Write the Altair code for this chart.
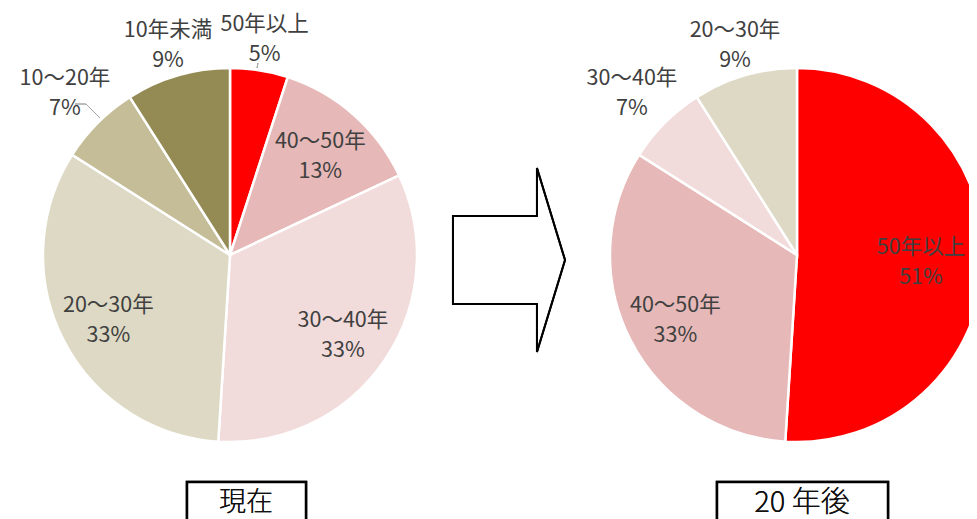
import altair as alt
import pandas as pd

# ---- data ----
now_names = ["50年以上", "40～50年", "30～40年", "20～30年", "10～20年", "10年未満"]
now_values = [5, 13, 33, 33, 7, 9]
future_names = ["50年以上", "40～50年", "30～40年", "20～30年"]
future_values = [51, 33, 7, 9]
panel_titles = ["現在", "20 年後"]

# ---- style ----
cat_domain = ["50年以上", "40～50年", "30～40年", "20～30年", "10～20年", "10年未満"]
cat_colors = ["#FF0000", "#E6B8B7", "#F2DCDB", "#DDD9C4", "#C4BD97", "#948A54"]
FONT = "Noto Sans CJK JP"
TXT = "#404040"
W, H = 961, 511
R = 187
CY = 247
LEFT_CX, RIGHT_CX = 222, 789
TAU = 6.283185307179586
LINE_H = 30


def frame(names, values):
    return pd.DataFrame({
        "name": names,
        "value": values,
        "idx": list(range(len(names))),
    })


def pie(names, values, cx):
    df = frame(names, values)
    arc = alt.Chart(df).mark_arc(radius=R, stroke="white", strokeWidth=2.5).encode(
        theta=alt.Theta("value:Q", stack=True, scale=alt.Scale(domain=[0, 100], range=[0, TAU])),
        order=alt.Order("idx:Q"),
        x=alt.value(cx), y=alt.value(CY),
        color=alt.Color("name:N", scale=alt.Scale(domain=cat_domain, range=cat_colors), legend=None),
    )
    # label at the slice's mid angle; small slices outside the pie
    # (distance = radius + gap + half label box along the ray), kept inside the canvas
    text = alt.Chart(df).transform_window(
        cum="sum(value)", sort=[alt.SortField("idx")], frame=[None, 0]
    ).transform_calculate(
        ang="(datum.cum - datum.value / 2) / 100 * 2 * PI",
        label="datum.name + '\\n' + datum.value + '%'",
    ).transform_calculate(
        lr=(f"datum.value < 10 ? {R} + 4 + min(46 / (abs(sin(datum.ang)) + 1e-6), "
            f"30 / (abs(cos(datum.ang)) + 1e-6)) : {R * 0.73}"),
    ).transform_calculate(
        px=f"min({cx} + datum.lr * sin(datum.ang), {W - 48})",
        py=f"{CY} - datum.lr * cos(datum.ang)",
    ).mark_text(
        font=FONT, fontSize=21.5, color=TXT, lineBreak="\n", lineHeight=LINE_H,
        align="center", baseline="middle", dy=-11,
    ).encode(
        x=alt.X("px:Q", scale=None, axis=None),
        y=alt.Y("py:Q", scale=None, axis=None),
        text="label:N",
    )
    return [arc, text]


deco = alt.Chart(pd.DataFrame({"t": panel_titles}))

# leader lines of the small outside labels (left pie)
lead_col = "#A6A6A6"
leaders = [
    deco.mark_rule(color=lead_col, strokeWidth=1).encode(
        x=alt.value(249), y=alt.value(60), x2=alt.value(250), y2=alt.value(55)),
    deco.mark_rule(color=lead_col, strokeWidth=1).encode(
        x=alt.value(67), y=alt.value(96), x2=alt.value(78), y2=alt.value(96)),
    deco.mark_rule(color=lead_col, strokeWidth=1).encode(
        x=alt.value(78), y=alt.value(96), x2=alt.value(92), y2=alt.value(110)),
]

# decorative arrow outline (unit-square path)
arrow_path = "M-0.609,-0.478 L0.304,-0.478 L0.304,-1 L0.609,0 L0.304,1 L0.304,0.478 L-0.609,0.478 Z"
arrow = deco.mark_point(shape=arrow_path, size=184 ** 2, filled=False, color="black",
                        strokeWidth=2, opacity=1).encode(x=alt.value(501), y=alt.value(252))

box_now = deco.mark_rect(fill="white", stroke="black", strokeWidth=2.5).encode(
    x=alt.value(179), x2=alt.value(298), y=alt.value(474), y2=alt.value(540))
box_fut = deco.mark_rect(fill="white", stroke="black", strokeWidth=2.5).encode(
    x=alt.value(709), x2=alt.value(880), y=alt.value(474), y2=alt.value(540))
t_now = deco.mark_text(font=FONT, fontSize=27, fontWeight=300, color="#111111", align="center",
                       baseline="middle").encode(
    x=alt.value(238), y=alt.value(495), text=alt.value(panel_titles[0]))
t_fut = deco.mark_text(font=FONT, fontSize=29, fontWeight=300, color="#111111", align="center",
                       baseline="middle").encode(
    x=alt.value(794), y=alt.value(495), text=alt.value(panel_titles[1]))

layers = pie(now_names, now_values, LEFT_CX) + pie(future_names, future_values, RIGHT_CX) + leaders + [
    arrow, box_now, box_fut, t_now, t_fut]

chart = alt.layer(*layers).properties(
    width=W, height=H, padding=0, autosize=alt.AutoSizeParams(type="none"), background="white",
).configure_view(stroke=None)

chart.save("out.html", embed_options={"renderer": "svg", "actions": False})
